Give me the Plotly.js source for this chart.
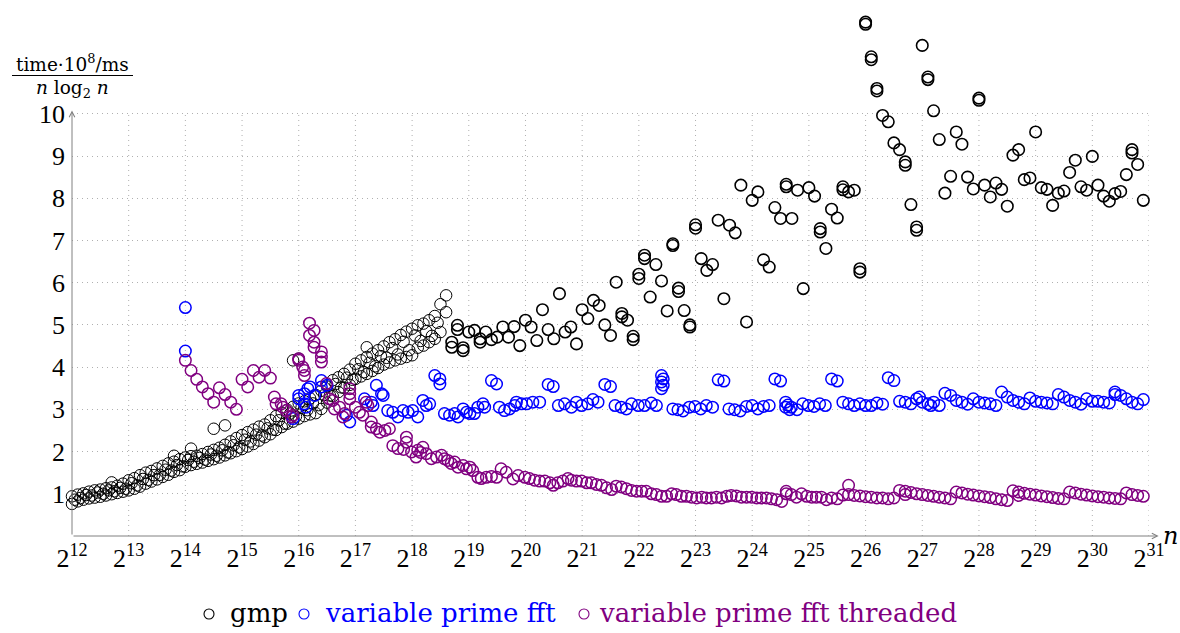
<!DOCTYPE html>
<html>
<head>
<meta charset="utf-8">
<script src="https://cdn.plot.ly/plotly-3.0.1.min.js"></script>
<style>
  html, body { margin: 0; padding: 0; background: #fff; }
  #chart { width: 1180px; height: 633px; }
</style>
</head>
<body>
<div id="chart"></div>
<script>
// Run time normalised by n*log2(n), against log2(n).

const seriesNames = ['gmp', 'variable prime fft', 'variable prime fft threaded'];

// gmp, small sizes: three runs per size
const gmpSmallLog2n = [
  12.0,12.1,12.2,12.3,12.4,12.5,12.6,12.7,12.8,12.9,
  13.0,13.1,13.2,13.3,13.4,13.5,13.6,13.7,13.8,13.9,
  14.0,14.1,14.2,14.3,14.4,14.5,14.6,14.7,14.8,14.9,
  15.0,15.1,15.2,15.3,15.4,15.5,15.6,15.7,15.8,15.9,
  16.0,16.1,16.2,16.3,16.4,16.5,16.6,16.7,16.8,16.9,
  17.0,17.1,17.2,17.3,17.4,17.5,17.6,17.7,17.8,17.9,
  18.0,18.1,18.2,18.3,18.4,18.5,18.6
];
const gmpRunA = [
  0.76,0.82,0.86,0.89,0.91,0.93,0.96,0.99,1.02,1.05,
  1.08,1.12,1.17,1.24,1.29,1.34,1.40,1.45,1.52,1.56,
  1.64,1.68,1.71,1.74,1.78,1.82,1.86,1.91,1.96,2.01,
  2.06,2.12,2.18,2.26,2.34,2.41,2.51,2.58,2.66,2.71,
  2.78,2.84,2.88,2.91,3.01,3.16,3.31,3.41,3.51,3.58,
  3.72,3.78,3.84,3.91,3.98,4.06,4.11,4.16,4.20,4.24,
  4.28,4.46,4.51,4.59,4.67,4.83,5.30
];
const gmpRunB = [
  0.94,0.98,1.01,1.05,1.08,1.10,1.13,1.15,1.19,1.24,
  1.32,1.37,1.44,1.50,1.54,1.60,1.66,1.72,1.76,1.82,
  1.86,1.89,1.90,1.94,1.99,2.04,2.09,2.16,2.24,2.32,
  2.39,2.46,2.52,2.59,2.64,2.74,2.84,2.92,2.99,3.06,
  3.14,3.19,3.26,3.34,3.44,3.54,3.69,3.76,3.84,3.94,
  4.08,4.16,4.24,4.32,4.40,4.49,4.59,4.66,4.76,4.84,
  4.91,4.99,5.03,5.11,5.21,5.49,5.70
];
const gmpMidLog2n = [
  12.05,12.15,12.25,12.35,12.45,12.55,12.65,12.75,12.85,12.95,
  13.05,13.15,13.25,13.35,13.45,13.55,13.65,13.75,13.85,13.95,
  14.05,14.15,14.25,14.35,14.45,14.55,14.65,14.75,14.85,14.95,
  15.05,15.15,15.25,15.35,15.45,15.55,15.65,15.75,15.85,15.95,
  16.05,16.15,16.25,16.35,16.45,16.55,16.65,16.75,16.85,16.95,
  17.05,17.15,17.25,17.35,17.45,17.55,17.65,17.75,17.85,17.95,
  18.05,18.15,18.25,18.35,18.45
];
const gmpRunC = [
  0.86,0.90,0.97,0.96,1.03,1.00,1.08,1.06,1.14,1.12,
  1.25,1.20,1.35,1.33,1.44,1.45,1.57,1.55,1.68,1.65,
  1.80,1.76,1.85,1.81,1.93,1.90,2.03,1.98,2.15,2.10,
  2.28,2.24,2.40,2.38,2.55,2.52,2.74,2.66,2.90,2.83,
  3.04,2.98,3.14,3.10,3.34,3.33,3.60,3.52,3.75,3.70,
  3.95,3.88,4.10,4.02,4.26,4.22,4.45,4.30,4.60,4.40,
  4.75,4.62,4.85,4.74,5.05
];
const gmpOutlierLog2n = [12.7, 13.8, 14.1, 14.5, 14.7, 15.9, 16.0, 17.2];
const gmpOutlierTime  = [1.27, 1.90, 2.07, 2.54, 2.62, 4.16, 4.20, 4.47];

// gmp, large sizes
const gmpLargeLog2n = [
  18.7,18.7,18.8,18.8,18.9,18.9,
  19.0,19.1,19.2,19.2,19.3,19.4,19.5,19.6,19.7,19.8,19.9,
  20.0,20.1,20.2,20.3,20.4,20.5,20.6,20.7,20.8,20.9,
  21.0,21.1,21.2,21.3,21.4,21.5,21.6,21.7,21.7,21.8,21.9,21.9,
  22.0,22.0,22.1,22.1,22.2,22.3,22.4,22.5,22.6,22.6,22.7,22.7,22.8,22.9,22.9,
  23.0,23.0,23.1,23.2,23.3,23.4,23.5,23.6,23.7,23.8,23.9,
  24.0,24.1,24.2,24.3,24.4,24.5,24.6,24.6,24.7,24.8,24.9,
  25.0,25.1,25.2,25.2,25.3,25.4,25.5,25.6,25.6,25.7,25.8,25.9,25.9,
  26.0,26.0,26.1,26.1,26.2,26.2,26.3,26.4,26.5,26.6,26.7,26.7,26.8,26.9,26.9,
  27.0,27.1,27.1,27.2,27.3,27.4,27.5,27.6,27.7,27.8,27.9,
  28.0,28.0,28.1,28.2,28.3,28.4,28.5,28.6,28.7,28.8,28.9,
  29.0,29.1,29.2,29.3,29.4,29.5,29.6,29.7,29.8,29.9,
  30.0,30.1,30.2,30.3,30.4,30.5,30.6,30.7,30.7,30.8,30.9
];
const gmpLargeTime = [
  4.59,4.47,4.99,4.89,4.46,4.39,
  4.83,4.87,4.59,4.67,4.83,4.65,4.71,4.95,4.71,4.96,4.51,
  5.11,4.95,4.63,5.36,4.89,4.67,5.74,4.83,4.95,4.55,
  5.36,5.15,5.58,5.46,5.00,4.75,6.01,5.27,5.19,5.11,4.73,4.65,
  6.20,6.10,6.65,6.57,5.66,6.43,6.04,5.33,6.92,6.88,5.87,5.79,5.34,5.00,4.95,
  7.37,7.29,6.57,6.29,6.43,7.48,5.62,7.36,7.18,8.31,5.07,
  7.95,8.15,6.54,6.37,7.78,7.52,8.33,8.27,7.52,8.19,5.86,
  8.25,8.05,7.28,7.20,6.81,7.74,7.53,8.27,8.20,8.15,8.19,6.33,6.25,
  12.17,12.12,11.35,11.28,10.60,10.54,9.96,9.81,9.31,9.15,8.86,8.78,7.85,7.32,7.24,
  11.62,10.87,10.81,10.07,9.39,8.12,8.52,9.57,9.28,8.50,8.22,
  10.37,10.32,8.31,8.03,8.36,8.21,7.81,9.02,9.15,8.44,8.48,
  9.57,8.25,8.21,7.83,8.12,8.17,8.61,8.90,8.27,8.19,
  8.99,8.31,8.05,7.93,8.11,8.16,8.56,9.15,9.07,8.80,7.95
];

// variable prime fft
const log2nFft = [
  14.0,14.0,
  15.9,16.0,16.0,16.1,16.1,16.13,16.16,16.2,16.28,16.4,16.4,16.5,16.84,16.9,
  17.16,17.28,17.31,17.37,17.46,17.49,17.57,17.66,17.75,17.84,17.93,
  18.01,18.1,18.19,18.25,18.31,18.4,18.49,18.49,18.57,18.66,18.75,18.81,18.9,18.96,
  19.02,19.1,19.16,19.25,19.28,19.4,19.49,19.54,19.63,19.72,19.81,19.84,19.93,
  20.02,20.13,20.25,20.4,20.49,20.58,20.69,20.81,20.9,20.99,
  21.1,21.19,21.28,21.4,21.5,21.58,21.69,21.78,21.87,21.99,
  22.1,22.22,22.31,22.4,22.43,22.4,22.43,22.4,22.6,22.69,22.78,22.89,22.99,
  23.09,23.19,23.3,23.4,23.5,23.59,23.69,23.79,23.9,24.0,
  24.1,24.2,24.3,24.4,24.5,24.59,24.59,24.63,24.66,24.69,24.79,24.89,24.99,
  25.09,25.19,25.29,25.4,25.5,25.6,25.7,25.8,25.9,26.0,
  26.1,26.2,26.3,26.4,26.5,26.6,26.7,26.8,26.9,26.95,27.0,
  27.1,27.15,27.2,27.3,27.4,27.5,27.6,27.7,27.8,27.9,28.0,
  28.1,28.2,28.3,28.4,28.5,28.6,28.7,28.8,28.9,29.0,
  29.1,29.2,29.3,29.4,29.5,29.6,29.7,29.8,29.9,30.0,
  30.1,30.2,30.3,30.4,30.4,30.5,30.6,30.7,30.8,30.9
];
const fftTime = [
  5.41,4.38,
  2.78,3.25,3.33,3.37,3.13,3.05,3.49,3.53,3.33,3.68,3.53,3.57,2.86,2.70,
  3.25,3.17,3.09,3.57,3.37,3.33,2.97,2.93,2.82,2.97,2.93,
  2.97,2.82,3.21,3.09,3.13,3.80,3.72,3.60,2.90,2.86,2.90,2.82,3.01,2.93,
  2.90,2.90,3.05,3.13,3.05,3.68,3.60,3.05,2.97,3.01,3.09,3.17,3.13,
  3.13,3.17,3.17,3.59,3.54,3.09,3.13,3.05,3.17,3.09,
  3.13,3.23,3.17,3.59,3.54,3.09,3.05,3.01,3.13,3.09,
  3.09,3.15,3.09,3.80,3.72,3.65,3.57,3.49,3.01,2.99,2.96,3.05,3.07,
  3.01,3.09,3.05,3.70,3.67,3.01,2.99,2.96,3.07,3.09,
  3.01,3.07,3.09,3.72,3.67,3.17,3.05,3.10,2.99,3.05,2.99,3.13,3.09,
  3.07,3.13,3.09,3.72,3.67,3.17,3.13,3.09,3.13,3.09,
  3.09,3.15,3.12,3.75,3.68,3.19,3.17,3.13,3.25,3.29,3.17,
  3.13,3.09,3.17,3.09,3.38,3.33,3.21,3.17,3.12,3.25,3.17,
  3.15,3.13,3.09,3.41,3.29,3.21,3.17,3.13,3.27,3.19,
  3.17,3.15,3.13,3.35,3.29,3.21,3.17,3.12,3.25,3.19,
  3.19,3.17,3.15,3.41,3.35,3.33,3.25,3.17,3.13,3.23
];

// variable prime fft threaded
const log2nThreaded = [
  14.0,14.1,14.2,14.3,14.4,14.5,14.6,14.7,14.8,14.9,
  15.0,15.1,15.2,15.3,15.4,15.5,15.57,15.6,15.69,15.72,15.78,15.87,15.9,
  16.0,16.0,16.07,16.1,16.1,16.19,16.19,16.27,16.27,16.27,16.4,16.4,16.4,16.49,16.54,16.6,16.63,16.72,16.78,16.81,16.9,16.9,16.9,
  17.0,17.07,17.13,17.19,17.22,17.28,17.28,17.37,17.43,17.52,17.6,17.66,17.75,17.85,17.9,17.9,17.99,
  18.07,18.1,18.15,18.19,18.25,18.34,18.43,18.52,18.57,18.63,18.69,18.75,18.81,18.9,18.96,
  19.02,19.07,19.16,19.22,19.31,19.4,19.49,19.57,19.66,19.78,19.87,19.99,
  20.07,20.16,20.25,20.34,20.43,20.49,20.57,20.66,20.75,20.81,20.9,20.99,
  21.08,21.16,21.25,21.34,21.43,21.52,21.6,21.69,21.78,21.87,21.96,
  22.05,22.13,22.22,22.31,22.4,22.49,22.58,22.66,22.75,22.84,22.93,
  23.02,23.11,23.19,23.28,23.37,23.46,23.55,23.63,23.72,23.81,23.9,23.99,
  24.08,24.16,24.25,24.34,24.43,24.52,24.6,24.6,24.69,24.78,24.87,24.96,
  25.05,25.13,25.22,25.31,25.4,25.5,25.6,25.7,25.7,25.8,25.9,
  26.0,26.1,26.2,26.3,26.4,26.5,26.6,26.7,26.7,26.8,26.9,
  27.0,27.1,27.2,27.3,27.4,27.5,27.6,27.7,27.8,27.9,
  28.0,28.1,28.2,28.3,28.4,28.5,28.6,28.7,28.7,28.8,28.9,
  29.0,29.1,29.2,29.3,29.4,29.5,29.6,29.7,29.8,29.9,
  30.0,30.1,30.2,30.3,30.4,30.5,30.6,30.7,30.8,30.9
];
const threadedTime = [
  4.16,3.92,3.71,3.53,3.37,3.17,3.51,3.35,3.17,3.00,
  3.71,3.53,3.92,3.76,3.92,3.74,3.29,3.13,3.13,3.05,2.97,2.82,2.86,
  4.16,4.20,4.00,3.92,3.80,5.04,4.75,4.87,4.59,4.47,4.36,4.24,4.12,3.61,3.25,3.21,3.01,3.05,2.82,2.90,3.49,3.37,3.25,
  3.05,2.93,2.86,3.17,3.09,2.70,2.58,2.54,2.46,2.50,2.54,2.14,2.07,2.05,2.34,2.22,1.99,
  1.87,2.03,1.98,2.10,1.95,1.83,1.87,1.91,1.83,1.79,1.72,1.75,1.63,1.67,1.59,
  1.63,1.55,1.39,1.36,1.39,1.41,1.39,1.59,1.51,1.35,1.43,1.39,
  1.36,1.32,1.30,1.30,1.26,1.20,1.26,1.30,1.36,1.32,1.30,1.30,
  1.26,1.26,1.22,1.20,1.14,1.10,1.18,1.16,1.12,1.08,1.06,
  1.06,1.06,1.00,0.98,0.94,0.94,1.00,0.98,0.94,0.94,0.92,
  0.90,0.92,0.90,0.90,0.92,0.90,0.94,0.96,0.95,0.92,0.92,0.92,
  0.90,0.90,0.90,0.88,0.86,0.82,1.00,1.06,0.98,0.92,1.00,0.94,
  0.92,0.92,0.92,0.86,0.90,0.88,0.97,1.20,0.98,0.96,0.95,
  0.93,0.92,0.90,0.90,0.88,0.90,1.08,1.06,0.98,1.03,1.00,
  0.98,0.96,0.94,0.92,0.90,0.88,1.04,1.02,0.99,0.97,
  0.95,0.93,0.91,0.88,0.86,0.84,1.07,1.04,0.96,1.01,0.99,
  0.97,0.95,0.93,0.91,0.89,0.88,1.04,1.02,0.99,0.97,
  0.95,0.93,0.92,0.90,0.89,0.88,1.02,0.98,0.96,0.94
];

// axis ticks
const xTickExponents = [12,13,14,15,16,17,18,19,20,21,22,23,24,25,26,27,28,29,30,31];
const yTickValues = [1,2,3,4,5,6,7,8,9,10];

// styling
const colors = ['#000000', '#0000ff', '#800080'];
const tickFontFamily = '"Liberation Serif", "Times New Roman", serif';
const textFontFamily = '"DejaVu Serif", "Liberation Serif", serif';
const gridColor = '#b0b0b0';
const axisColor = '#808080';
const gridDash = '1px,4px';
const yTop = yTickValues[yTickValues.length - 1];
const xMin = xTickExponents[0], xMax = xTickExponents[xTickExponents.length - 1];

// page layout: paper area spans x 72..1149 and y 4..617 px; the plot's y=0 sits at 536 px
const FIG_W = 1180, FIG_H = 633;
const PAPER_LEFT = 72, PAPER_RIGHT = 1149, PAPER_TOP = 4, PAPER_BOTTOM = 617;
const paperX = px => (px - PAPER_LEFT) / (PAPER_RIGHT - PAPER_LEFT);
const paperY = px => (PAPER_BOTTOM - px) / (PAPER_BOTTOM - PAPER_TOP);

function series(x, y, i, lw) {
  return {
    type: 'scatter', mode: 'markers', x: x, y: y,
    name: seriesNames[i],
    showlegend: false,
    cliponaxis: false,
    hoverinfo: 'skip',
    marker: { symbol: 'circle-open', size: 11.5, color: colors[i], line: { width: lw, color: colors[i] } }
  };
}

const gmpX = [].concat(gmpSmallLog2n, gmpSmallLog2n, gmpMidLog2n, gmpOutlierLog2n, gmpLargeLog2n);
const gmpY = [].concat(gmpRunA, gmpRunB, gmpRunC, gmpOutlierTime, gmpLargeTime);
// repeated runs at large sizes sit on top of each other and read as heavier rings
const gmpLineWidths = gmpX.map(v => v > 18.65 ? 1.6 : 1.0);

const traces = [
  series(gmpX, gmpY, 0, gmpLineWidths),
  series(log2nFft, fftTime, 1, 1.5),
  series(log2nThreaded, threadedTime, 2, 1.5)
];

// vertical dotted grid, only up to the top tick
const shapes = xTickExponents.slice(1).map(k => ({
  type: 'line', xref: 'x', yref: 'y', x0: k, x1: k, y0: 0, y1: yTop,
  layer: 'below', line: { color: gridColor, width: 1, dash: gridDash }
}));
// fraction bar of the y label
shapes.push({
  type: 'line', xref: 'paper', yref: 'paper', x0: paperX(12), x1: paperX(133), y0: paperY(75.5), y1: paperY(75.5),
  line: { color: '#000', width: 1 }
});

const annotations = [
  // axes with arrow heads
  { xref: 'x', yref: 'y', axref: 'x', ayref: 'y', x: xMax + 0.17, y: 0, ax: xMin, ay: 0,
    text: '', showarrow: true, arrowhead: 5, arrowsize: 1.1, arrowwidth: 1, arrowcolor: axisColor, standoff: 0, startstandoff: 0 },
  { xref: 'x', yref: 'y', axref: 'x', ayref: 'y', x: xMin, y: yTop + 0.08, ax: xMin, ay: 0,
    text: '', showarrow: true, arrowhead: 5, arrowsize: 1.1, arrowwidth: 1, arrowcolor: axisColor, standoff: 0, startstandoff: 0 },
  // axis labels
  { xref: 'paper', yref: 'paper', x: paperX(1170), y: paperY(536), text: '<i>n</i>', showarrow: false,
    xanchor: 'center', yanchor: 'middle', font: { family: textFontFamily, size: 24, color: '#000' } },
  { xref: 'paper', yref: 'paper', x: paperX(72), y: paperY(63), text: 'time·10<sup>8</sup>/ms', showarrow: false,
    xanchor: 'center', yanchor: 'middle', font: { family: textFontFamily, size: 18.5, color: '#000' } },
  { xref: 'paper', yref: 'paper', x: paperX(72), y: paperY(89), text: '<i>n</i> log<sub>2</sub> <i>n</i>', showarrow: false,
    xanchor: 'center', yanchor: 'middle', font: { family: textFontFamily, size: 18.5, color: '#000' } }
];

// legend row under the axis: ring + series name, in the series colour
const legendSymbolX = [209, 304, 584];
const legendTextX = [228, 323, 597];
const LEGEND_Y = 613;
seriesNames.forEach((name, i) => {
  shapes.push({
    type: 'circle', xref: 'paper', yref: 'paper', xsizemode: 'pixel', ysizemode: 'pixel',
    xanchor: paperX(legendSymbolX[i]), yanchor: paperY(LEGEND_Y + 1),
    x0: -5, x1: 5, y0: -5, y1: 5,
    line: { color: colors[i], width: 1.1 }
  });
  annotations.push({
    xref: 'paper', yref: 'paper', x: paperX(legendTextX[i]), y: paperY(LEGEND_Y),
    text: name, showarrow: false, xanchor: 'left', yanchor: 'middle',
    font: { family: textFontFamily, size: 26, color: colors[i] }
  });
});

const layout = {
  width: FIG_W, height: FIG_H,
  margin: { l: PAPER_LEFT, r: FIG_W - PAPER_RIGHT, t: PAPER_TOP, b: FIG_H - PAPER_BOTTOM, pad: 0 },
  paper_bgcolor: '#ffffff', plot_bgcolor: '#ffffff',
  font: { family: tickFontFamily, size: 26, color: '#000' },
  hovermode: false,
  showlegend: false,
  xaxis: {
    range: [xMin, xMax],
    tickmode: 'array',
    tickvals: xTickExponents,
    ticktext: xTickExponents.map(k => '2<sup>' + k + '</sup>'),
    showgrid: false, zeroline: false, showline: false, ticks: '',
    ticklabelstandoff: 4, automargin: false,
    tickfont: { family: tickFontFamily, size: 26, color: '#000' }
  },
  yaxis: {
    domain: [paperY(536), 1],
    range: [0, 12.6],
    tickmode: 'array',
    tickvals: yTickValues,
    showgrid: true, gridcolor: gridColor, gridwidth: 1, griddash: gridDash,
    zeroline: false, showline: false, ticks: '',
    ticklabelstandoff: 6, automargin: false,
    tickfont: { family: tickFontFamily, size: 26, color: '#000' }
  },
  shapes: shapes,
  annotations: annotations
};

Plotly.newPlot('chart', traces, layout, { staticPlot: true, displayModeBar: false });
</script>
</body>
</html>
